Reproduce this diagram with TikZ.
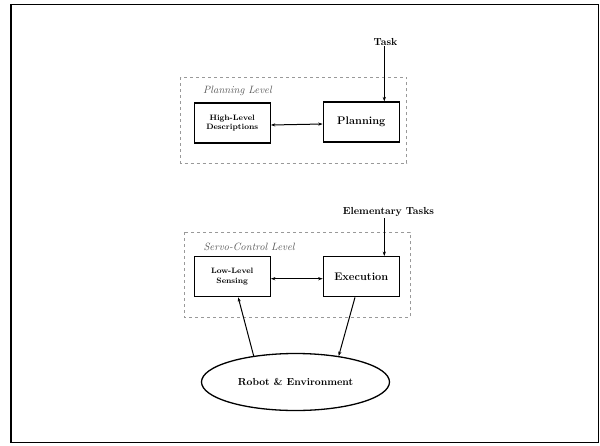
\documentclass[tikz,border=0pt]{standalone}
\usetikzlibrary{shapes.geometric,arrows.meta}
\begin{document}
\begin{tikzpicture}[x=1pt,y=-1pt,
  blk/.style={draw,line width=1.3pt,minimum width=76pt,minimum height=40pt,inner sep=1pt,align=center},
  bigtxt/.style={font=\fontsize{11}{13}\selectfont\bfseries},
  smalltxt/.style={font=\fontsize{7.8}{9.8}\selectfont\bfseries},
  lbl/.style={font=\fontsize{10.2}{12}\selectfont\bfseries,inner sep=1pt},
  lvl/.style={font=\fontsize{10.6}{12}\selectfont\itshape,text=black!65,anchor=west,inner sep=0pt},
  grp/.style={draw=black!40,dashed,line width=0.8pt},
  conn/.style={line width=1pt,-{Stealth[length=4.5pt,width=3.2pt]}},
  biconn/.style={line width=1pt,{Stealth[length=4.5pt,width=3.2pt]}-{Stealth[length=4.5pt,width=3.2pt]}}]
\useasboundingbox (0,0) rectangle (600,445);
\draw[line width=1.8pt] (11,4.5) rectangle (598.5,442.5);
% groups
\draw[grp] (180.7,77.3) rectangle (406.7,163.3);
\draw[grp] (184,232.3) rectangle (410,317.3);
\node[lvl] (pl) at (203,90.7) {Planning Level};
\node[lvl] (sl) at (203.3,247.3) {Servo-Control Level};
% nodes
\node[blk,smalltxt] (hl) at (232.2,123) {High-Level\\Descriptions};
\node[blk,bigtxt] (plan) at (361.3,122) {Planning};
\node[blk,smalltxt] (ll) at (232.2,276.7) {Low-Level\\Sensing};
\node[blk,bigtxt] (exec) at (361.3,276.7) {Execution};
\node[draw,ellipse,line width=1.3pt,minimum width=188pt,minimum height=57pt,font=\fontsize{10.2}{12}\selectfont\bfseries] (robot) at (295.5,382) {Robot \& Environment};
\node[lbl] (task) at (385.5,41.7) {Task};
\node[lbl] (et) at (388.5,212.3) {Elementary Tasks};
% connectors
\draw[conn] ([xshift=-1.2pt]task.south) -- ([xshift=-1.2pt]task.south |- plan.north);
\draw[conn] ([xshift=-4.2pt]et.south) -- ([xshift=-4.2pt]et.south |- exec.north);
\draw[biconn] ([yshift=-2pt]hl.east) -- ([yshift=-2pt]plan.west);
\draw[biconn] ([yshift=-2pt]ll.east) -- ([yshift=-2pt]exec.west);
\draw[conn] (robot.148) -- ([xshift=6pt]ll.south);
\draw[conn] ([xshift=-6.3pt]exec.south) -- (robot.31);
\end{tikzpicture}
\end{document}
